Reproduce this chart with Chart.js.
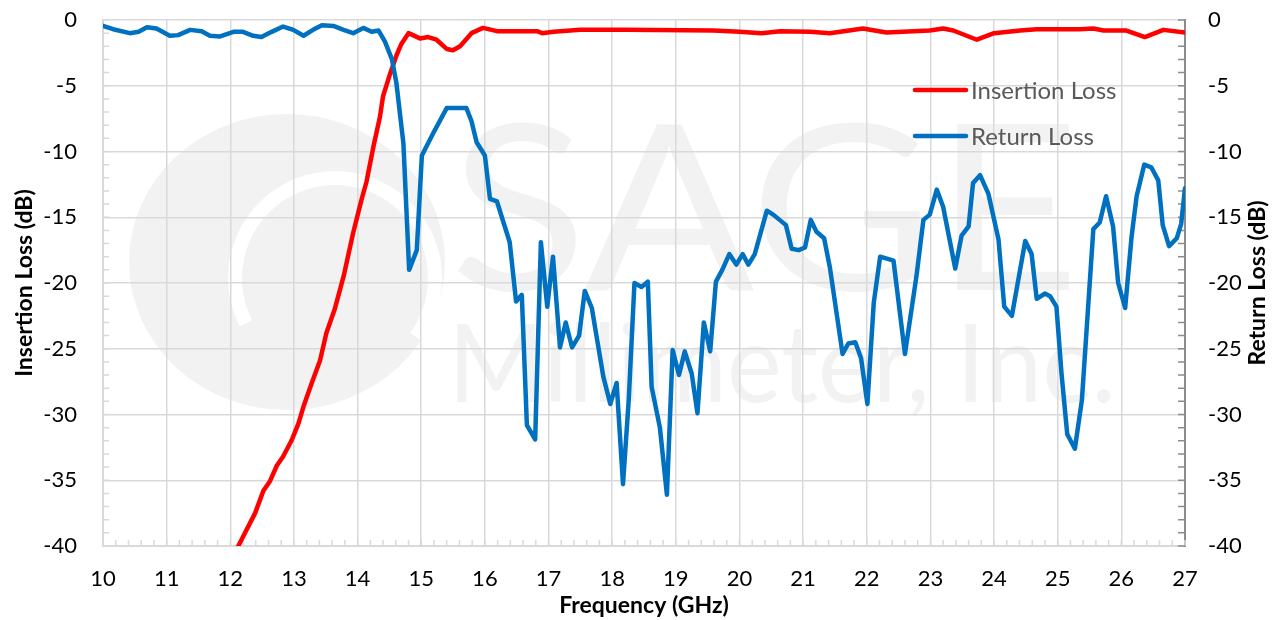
<!DOCTYPE html>
<html>
<head>
<meta charset="utf-8">
<script src="https://cdn.jsdelivr.net/npm/chart.js@4.4.1/dist/chart.umd.min.js"></script>
<style>
  html, body { margin: 0; padding: 0; background: #fff; }
  #wrap { width: 1278px; height: 620px; position: relative; }
</style>
</head>
<body>
<div id="wrap"><canvas id="lossChart"></canvas></div>
<script>
// Insertion loss trace (GHz / dB)
const ilFreq = [12.0, 12.2, 12.39, 12.52, 12.62, 12.73, 12.83, 12.96, 13.07, 13.15, 13.28, 13.41, 13.51, 13.64,
  13.78, 13.93, 14.06, 14.14, 14.25, 14.35, 14.40, 14.51, 14.61, 14.69, 14.80, 14.98, 15.11, 15.24, 15.40,
  15.50, 15.61, 15.79, 15.97, 16.19, 16.82, 16.9, 17.08, 17.5, 18.23, 19.59, 20.0, 20.35, 20.64, 21.11,
  21.42, 21.94, 22.31, 22.99, 23.2, 23.36, 23.73, 24.0, 24.41, 24.67, 25.35, 25.56, 25.72, 26.08, 26.37,
  26.66, 27.0];
const ilLoss = [-41.2, -39.3, -37.5, -35.8, -35.1, -33.9, -33.2, -32.0, -30.7, -29.4, -27.6, -25.9, -23.8, -22.0,
  -19.5, -16.2, -13.7, -12.3, -9.6, -7.4, -5.8, -4.1, -2.7, -1.8, -1.0, -1.4, -1.3, -1.5, -2.2,
  -2.3, -2.0, -1.0, -0.6, -0.85, -0.85, -1.0, -0.9, -0.75, -0.75, -0.8, -0.9, -1.0, -0.85, -0.9,
  -1.0, -0.65, -0.95, -0.8, -0.65, -0.8, -1.5, -1.0, -0.8, -0.7, -0.7, -0.65, -0.8, -0.8, -1.3,
  -0.75, -0.95];

// Return loss trace
const rlFreq = [10.0, 10.16, 10.42, 10.56, 10.69, 10.84, 11.05, 11.18, 11.37, 11.55, 11.68, 11.84, 12.05, 12.2,
  12.36, 12.49, 12.65, 12.83, 12.99, 13.15, 13.3, 13.44, 13.62, 13.78, 13.93, 14.09, 14.22, 14.33, 14.43,
  14.54, 14.61, 14.72, 14.81, 14.93, 15.01, 15.19, 15.40, 15.71, 15.79, 15.87, 16.0, 16.08, 16.19, 16.39,
  16.49, 16.58, 16.66, 16.79, 16.88, 16.98, 17.07, 17.18, 17.27, 17.37, 17.48, 17.57, 17.68, 17.86, 17.97,
  18.07, 18.17, 18.26, 18.35, 18.46, 18.56, 18.62, 18.75, 18.86, 18.95, 19.05, 19.14, 19.25, 19.34, 19.44,
  19.54, 19.63, 19.73, 19.84, 19.95, 20.05, 20.14, 20.24, 20.43, 20.53, 20.73, 20.82, 20.93, 21.03, 21.12,
  21.21, 21.33, 21.42, 21.62, 21.71, 21.82, 21.91, 22.01, 22.11, 22.21, 22.42, 22.6, 22.78, 22.89, 22.99,
  23.1, 23.2, 23.39, 23.49, 23.6, 23.67, 23.78, 23.91, 24.07, 24.16, 24.28, 24.49, 24.59, 24.67, 24.8,
  24.88, 24.98, 25.06, 25.15, 25.27, 25.38, 25.56, 25.66, 25.76, 25.87, 25.95, 26.06, 26.16, 26.24, 26.36,
  26.47, 26.58, 26.65, 26.75, 26.87, 26.94, 27.0];
const rlLoss = [-0.45, -0.7, -1.0, -0.9, -0.55, -0.65, -1.2, -1.15, -0.75, -0.85, -1.2, -1.25, -0.9, -0.9,
  -1.2, -1.3, -0.9, -0.5, -0.75, -1.2, -0.75, -0.4, -0.45, -0.75, -1.0, -0.6, -0.9, -0.8, -1.65,
  -3.0, -4.8, -9.4, -19.0, -17.5, -10.3, -8.6, -6.7, -6.7, -7.7, -9.3, -10.3, -13.6, -13.8, -16.9,
  -21.4, -20.9, -30.8, -31.9, -16.9, -21.8, -18.0, -24.9, -23.0, -24.9, -24.0, -20.6, -21.9, -27.1, -29.2,
  -27.6, -35.3, -28.9, -20.0, -20.3, -19.9, -27.9, -31.0, -36.1, -25.1, -27.0, -25.2, -26.9, -29.9, -23.0,
  -25.2, -19.9, -19.0, -17.8, -18.6, -17.8, -18.6, -17.8, -14.5, -14.8, -15.6, -17.4, -17.5, -17.3, -15.2,
  -16.1, -16.6, -18.8, -25.4, -24.6, -24.5, -25.7, -29.2, -21.5, -18.0, -18.3, -25.4, -19.5, -15.2, -14.8,
  -12.9, -14.2, -18.9, -16.4, -15.7, -12.4, -11.8, -13.2, -16.7, -21.8, -22.5, -16.8, -17.8, -21.2, -20.8,
  -21.0, -21.8, -26.9, -31.5, -32.6, -28.9, -15.9, -15.4, -13.4, -15.7, -20.0, -21.9, -16.5, -13.4, -11.0,
  -11.2, -12.2, -15.6, -17.2, -16.6, -15.5, -12.8];

const freqTicks = [10, 11, 12, 13, 14, 15, 16, 17, 18, 19, 20, 21, 22, 23, 24, 25, 26, 27];
const dbTicks = [0, -5, -10, -15, -20, -25, -30, -35, -40];

const toPoints = (xs, ys) => xs.map((x, i) => ({ x: x, y: ys[i] }));
const setTicks = vals => scale => { scale.ticks = vals.map(v => ({ value: v })); };
// fixed axis box so the plot sits where the sheet had it
const fitSide = w => scale => {
  scale.width = w;
  scale.paddingTop = 20;
  scale.paddingBottom = 14;
};

const FONT = 'Lato';
const GRID = '#d9d9d9';

// watermark, minor ticks, legend and the right-hand title
const sheetDecor = {
  id: 'sheetDecor',
  beforeDraw(chart) {
    const ctx = chart.ctx;
    ctx.save();
    ctx.fillStyle = '#f2f2f2';
    ctx.beginPath();
    ctx.ellipse(287, 262, 158, 148, 0, 0, Math.PI * 2);
    ctx.fill();
    ctx.strokeStyle = '#ffffff';
    ctx.lineWidth = 14;
    ctx.beginPath();
    ctx.arc(335, 278, 100, Math.PI * 0.85, Math.PI * 2.2);
    ctx.stroke();

    ctx.fillStyle = '#f2f2f2';
    ctx.font = '232px ' + FONT;
    let w = ctx.measureText('SAGE').width;
    ctx.save();
    ctx.translate(450, 290);
    ctx.scale(630 / w, 1);
    ctx.fillText('SAGE', 0, 0);
    ctx.restore();
    ctx.font = '108px ' + FONT;
    w = ctx.measureText('Millimeter, Inc.').width;
    ctx.save();
    ctx.translate(448, 402);
    ctx.scale(668 / w, 1);
    ctx.fillText('Millimeter, Inc.', 0, 0);
    ctx.restore();
    ctx.restore();
  },
  beforeDatasetsDraw(chart) {
    const { ctx, chartArea: a, scales } = chart;
    ctx.save();
    ctx.lineWidth = 1.5;
    ctx.strokeStyle = GRID;
    ctx.beginPath();
    for (let v = scales.y.min; v <= scales.y.max; v++) {
      const py = scales.y.getPixelForValue(v);
      ctx.moveTo(a.left, py);
      ctx.lineTo(a.left + 6, py);
    }
    for (let f = scales.x.min * 5; f <= scales.x.max * 5; f++) {
      const px = scales.x.getPixelForValue(f / 5);
      ctx.moveTo(px, a.bottom);
      ctx.lineTo(px, a.bottom - 6);
    }
    ctx.stroke();
    ctx.strokeStyle = '#8c8c8c';
    ctx.beginPath();
    for (let v = scales.y2.min; v <= scales.y2.max; v++) {
      const py = scales.y2.getPixelForValue(v);
      ctx.moveTo(a.right, py);
      ctx.lineTo(a.right - 7, py);
    }
    ctx.stroke();
    ctx.restore();
  },
  afterDraw(chart) {
    const { ctx, chartArea: a } = chart;
    ctx.save();
    ctx.font = '24px ' + FONT;
    ctx.textBaseline = 'middle';
    chart.data.datasets.forEach((ds, i) => {
      const y = 90 + i * 46;
      ctx.strokeStyle = ds.borderColor;
      ctx.lineWidth = ds.borderWidth;
      ctx.lineCap = 'round';
      ctx.beginPath();
      ctx.moveTo(915, y);
      ctx.lineTo(966, y);
      ctx.stroke();
      ctx.fillStyle = '#595959';
      ctx.fillText(ds.label, 971, y + 1);
    });
    ctx.translate(1258, (a.top + a.bottom) / 2);
    ctx.rotate(-Math.PI / 2);
    ctx.font = 'bold 23px ' + FONT;
    ctx.fillStyle = '#000';
    ctx.textAlign = 'center';
    ctx.textBaseline = 'middle';
    ctx.fillText('Return Loss (dB)', 0, 0);
    ctx.restore();
  }
};

function initChart() {
  const ctx = document.getElementById('lossChart').getContext('2d');
  new Chart(ctx, {
    type: 'line',
    data: {
      datasets: [{
        label: 'Insertion Loss',
        data: toPoints(ilFreq, ilLoss),
        borderColor: '#ff0000',
        borderWidth: 4.5,
        yAxisID: 'y',
        order: 2
      }, {
        label: 'Return Loss',
        data: toPoints(rlFreq, rlLoss),
        borderColor: '#0070c0',
        borderWidth: 4.5,
        yAxisID: 'y2',
        order: 1
      }]
    },
    options: {
      responsive: true,
      maintainAspectRatio: false,
      animation: false,
      layout: { padding: 0 },
      elements: {
        point: { radius: 0 },
        line: { tension: 0, borderJoinStyle: 'round', borderCapStyle: 'round', fill: false }
      },
      plugins: { legend: { display: false }, tooltip: { enabled: false } },
      scales: {
        x: {
          type: 'linear',
          min: 10, max: 27,
          afterBuildTicks: setTicks(freqTicks),
          afterFit: s => { s.height = 74; },
          grid: { color: GRID, lineWidth: 1.5, drawTicks: false },
          border: { color: GRID, width: 2 },
          ticks: { color: '#000', padding: 20, font: { family: FONT, size: 22 } },
          title: {
            display: true, text: 'Frequency (GHz)', color: '#000',
            font: { family: FONT, size: 23, weight: 'bold' }, padding: { top: 1, bottom: 1 }
          }
        },
        y: {
          position: 'left',
          min: -40, max: 0,
          afterBuildTicks: setTicks(dbTicks),
          afterFit: fitSide(103),
          grid: { color: GRID, lineWidth: 1.5, drawTicks: false },
          border: { color: GRID, width: 2 },
          ticks: { color: '#000', padding: 26, font: { family: FONT, size: 22 } },
          title: {
            display: true, text: 'Insertion Loss (dB)', color: '#000',
            font: { family: FONT, size: 23, weight: 'bold' }, padding: { top: 11, bottom: 1 }
          }
        },
        y2: {
          position: 'right',
          min: -40, max: 0,
          afterBuildTicks: setTicks(dbTicks),
          afterFit: fitSide(93),
          grid: { display: false, drawTicks: false },
          border: { color: '#8c8c8c', width: 2 },
          ticks: { color: '#000', padding: 23, font: { family: FONT, size: 22 } }
        }
      }
    },
    plugins: [sheetDecor]
  });
}

window.addEventListener('DOMContentLoaded', initChart);
</script>
</body>
</html>
